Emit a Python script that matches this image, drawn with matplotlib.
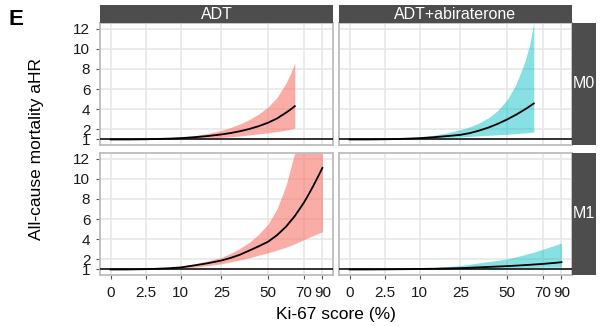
import numpy as np
import matplotlib
matplotlib.use("Agg")
import matplotlib.pyplot as plt

plt.rcParams["font.family"] = ["Liberation Sans", "DejaVu Sans"]

# -----------------------------
# Data
# -----------------------------
X_M0 = [0, 1.25, 2.5, 5, 7.5, 10, 15, 20, 25, 30, 35, 40, 45, 50, 55, 60, 62.5, 65]
ADT_M0_HR = [1.0, 1.0, 1.02, 1.05, 1.08, 1.13, 1.22, 1.34, 1.5, 1.64, 1.82, 2.04, 2.32, 2.66,
             3.08, 3.65, 3.96, 4.3]
ADT_M0_LO = [1.0, 1.0, 1.01, 1.02, 1.04, 1.07, 1.1, 1.15, 1.2, 1.27, 1.35, 1.45, 1.55, 1.66,
             1.78, 1.92, 2.02, 2.12]
ADT_M0_HI = [1.0, 1.0, 1.03, 1.07, 1.13, 1.22, 1.38, 1.6, 1.9, 2.19, 2.54, 2.98, 3.53, 4.22,
             5.16, 6.56, 7.5, 8.6]

ABI_M0_HR = [1.0, 1.0, 1.02, 1.04, 1.08, 1.13, 1.22, 1.33, 1.46, 1.63, 1.88, 2.18, 2.55, 2.98,
             3.45, 3.98, 4.27, 4.57]
ABI_M0_LO = [1.0, 1.0, 1.01, 1.03, 1.05, 1.07, 1.12, 1.18, 1.24, 1.3, 1.36, 1.41, 1.46, 1.51,
             1.58, 1.65, 1.69, 1.73]
ABI_M0_HI = [1.0, 1.0, 1.03, 1.07, 1.13, 1.2, 1.4, 1.65, 1.97, 2.25, 2.63, 3.15, 3.88, 4.93,
             6.46, 8.72, 10.3, 12.6]

X_M1 = [0, 1.25, 2.5, 5, 7.5, 10, 15, 20, 25, 30, 35, 40, 45, 50, 55, 60, 65, 70, 75, 80, 85, 90]
ADT_M1_HR = [1.0, 1.0, 1.03, 1.07, 1.12, 1.2, 1.4, 1.62, 1.89, 2.15, 2.47, 2.88, 3.3, 3.75,
             4.4, 5.23, 6.3, 7.6, 8.4, 9.25, 10.15, 11.07]
ADT_M1_LO = [1.0, 1.0, 1.01, 1.03, 1.06, 1.1, 1.22, 1.38, 1.56, 1.75, 1.95, 2.16, 2.42, 2.65,
             2.92, 3.2, 3.55, 3.95, 4.15, 4.35, 4.55, 4.74]
ADT_M1_HI = [1.0, 1.0, 1.04, 1.1, 1.18, 1.28, 1.55, 1.85, 2.2, 2.6, 3.1, 3.7, 4.5, 5.5,
             7.0, 9.3, 12.6, 16, 18.5, 21, 24, 27]

ABI_M1_HR = [1.0, 1.0, 1.01, 1.02, 1.03, 1.05, 1.07, 1.1, 1.13, 1.17, 1.21, 1.25, 1.29, 1.33,
             1.38, 1.43, 1.49, 1.55, 1.59, 1.63, 1.67, 1.72]
ABI_M1_LO = [1.0, 1.0, 1.0, 1.01, 1.01, 1.02, 1.03, 1.05, 1.07, 1.08, 1.09, 1.1, 1.12, 1.13,
             1.15, 1.17, 1.2, 1.23, 1.23, 1.23, 1.23, 1.23]
ABI_M1_HI = [1.0, 1.0, 1.02, 1.04, 1.07, 1.1, 1.18, 1.28, 1.4, 1.52, 1.65, 1.78, 1.9, 2.05,
             2.25, 2.48, 2.72, 3.0, 3.15, 3.3, 3.45, 3.63]

X_TICKS = [0, 2.5, 10, 25, 50, 70, 90]
X_TICK_LABELS = ["0", "2.5", "10", "25", "50", "70", "90"]
Y_TICKS = [1, 2, 4, 6, 8, 10, 12]

COLS = ["ADT", "ADT+abiraterone"]
ROWS = ["M0", "M1"]

# -----------------------------
# Scale: x axis spacing as in the original (piecewise on tick knots)
# -----------------------------
KNOT_POS = np.array([0, 35, 70, 111, 157.6, 193.3, 212.0])
KNOTS = np.array(X_TICKS, dtype=float)


def fwd(x):
    x = np.asarray(x, dtype=float)
    u = np.interp(x, KNOTS, KNOT_POS)
    s0 = (KNOT_POS[1] - KNOT_POS[0]) / (KNOTS[1] - KNOTS[0])
    s1 = (KNOT_POS[-1] - KNOT_POS[-2]) / (KNOTS[-1] - KNOTS[-2])
    u = np.where(x < KNOTS[0], KNOT_POS[0] + (x - KNOTS[0]) * s0, u)
    u = np.where(x > KNOTS[-1], KNOT_POS[-1] + (x - KNOTS[-1]) * s1, u)
    return u


def inv(u):
    u = np.asarray(u, dtype=float)
    x = np.interp(u, KNOT_POS, KNOTS)
    s0 = (KNOTS[1] - KNOTS[0]) / (KNOT_POS[1] - KNOT_POS[0])
    s1 = (KNOTS[-1] - KNOTS[-2]) / (KNOT_POS[-1] - KNOT_POS[-2])
    x = np.where(u < KNOT_POS[0], KNOTS[0] + (u - KNOT_POS[0]) * s0, x)
    x = np.where(u > KNOT_POS[-1], KNOTS[-1] + (u - KNOT_POS[-1]) * s1, x)
    return x


W, H = 605, 326
fig = plt.figure(figsize=(W / 100, H / 100), dpi=100)


def px_axes(x0, y0, x1, y1):
    # pixel box (y from top) -> figure axes
    return fig.add_axes([x0 / W, (H - y1) / H, (x1 - x0) / W, (y1 - y0) / H])


STRIP = "#4D4D4D"
GRID = "#E6E6E6"
BORDER = "#BDBDBD"
RED = "#F8766D"
TEAL = "#00BFC4"

panel_x = [(100, 333), (339, 572)]
panel_y = [(23, 145), (153, 275)]

series = {
    (0, 0): (X_M0, ADT_M0_HR, ADT_M0_LO, ADT_M0_HI, RED),
    (0, 1): (X_M0, ABI_M0_HR, ABI_M0_LO, ABI_M0_HI, TEAL),
    (1, 0): (X_M1, ADT_M1_HR, ADT_M1_LO, ADT_M1_HI, RED),
    (1, 1): (X_M1, ABI_M1_HR, ABI_M1_LO, ABI_M1_HI, TEAL),
}

span = KNOT_POS[-1] - KNOT_POS[0]
xlim = (float(inv(KNOT_POS[0] - 0.05 * span)), float(inv(KNOT_POS[-1] + 0.05 * span)))

for r in range(2):
    for c in range(2):
        x0, x1 = panel_x[c]
        y0, y1 = panel_y[r]
        ax = px_axes(x0, y0, x1, y1)
        ax.set_xscale("function", functions=(fwd, inv))
        xs, hr, lo, hi, col = series[(r, c)]
        alpha = 0.6 if col == RED else 0.47
        ax.fill_between(xs, lo, hi, color=col, alpha=alpha, linewidth=0, zorder=2)
        ax.plot(xs, hr, color="black", linewidth=1.3, zorder=3)
        ax.axhline(1, color="black", linewidth=1.1, zorder=4)

        ax.set_xlim(*xlim)
        ax.set_ylim(0.45, 12.55)
        ax.set_xticks(X_TICKS)
        ax.set_yticks(Y_TICKS)
        ax.minorticks_off()
        ax.grid(True, color=GRID, linewidth=1.1, zorder=0)
        ax.set_axisbelow(True)
        for sp in ax.spines.values():
            sp.set_color(BORDER)
            sp.set_linewidth(1.3)
        ax.tick_params(length=3, width=0.8, color="#555555", labelsize=11,
                       labelcolor="#1A1A1A")
        ax.tick_params(axis="x", pad=5)
        ax.tick_params(axis="y", pad=4)

        if r == 1:
            ax.set_xticklabels(X_TICK_LABELS)
        else:
            ax.tick_params(axis="x", length=0, labelbottom=False)
        if c == 0:
            ax.set_yticklabels([str(v) for v in Y_TICKS])
        else:
            ax.tick_params(axis="y", length=0, labelleft=False)

# top strips
for c, name in enumerate(COLS):
    x0, x1 = panel_x[c]
    sa = px_axes(x0, 5, x1, 23)
    sa.set_facecolor(STRIP)
    sa.set_xticks([])
    sa.set_yticks([])
    for sp in sa.spines.values():
        sp.set_visible(False)
    sa.text(0.5, 0.45, name, color="white", fontsize=11.5, ha="center", va="center",
            transform=sa.transAxes)

# right strips
for r, name in enumerate(ROWS):
    y0, y1 = panel_y[r]
    sa = px_axes(572, y0, 596, y1)
    sa.set_facecolor(STRIP)
    sa.set_xticks([])
    sa.set_yticks([])
    for sp in sa.spines.values():
        sp.set_visible(False)
    sa.text(0.5, 0.5, name, color="white", fontsize=11.5, ha="center", va="center",
            transform=sa.transAxes)

fig.text(336 / W, 1 - 315 / H, "Ki-67 score (%)", fontsize=12.5, ha="center", va="center")
fig.text(36.5 / W, 1 - 149 / H, "All-cause mortality aHR", fontsize=12.5,
         rotation=90, ha="center", va="center")
fig.text(8 / W, 1 - 9 / H, "E", fontsize=16, fontweight="bold", ha="left", va="top")

fig.savefig("out.png", dpi=100)
plt.close(fig)
